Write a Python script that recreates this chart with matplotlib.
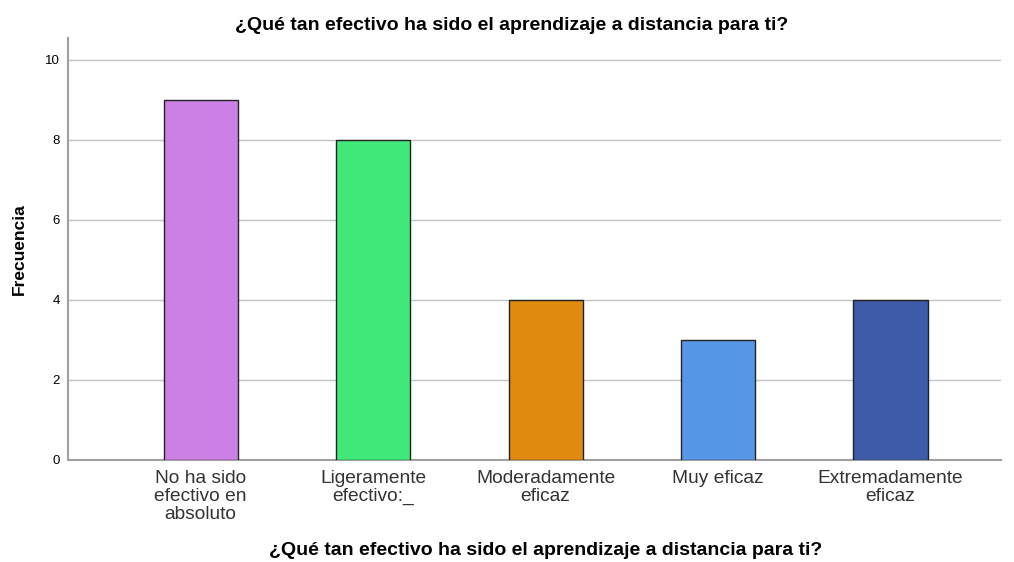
import matplotlib.pyplot as plt

categories = ["No ha sido\nefectivo en\nabsoluto", "Ligeramente\nefectivo:_",
              "Moderadamente\neficaz", "Muy eficaz", "Extremadamente\neficaz"]
frecuencia = [9, 8, 4, 3, 4]
colores = ["#CC80E6", "#40E87A", "#E08A10", "#5597E6", "#3E5BA9"]
yticks = [0, 2, 4, 6, 8, 10]

plt.rcParams['font.family'] = ['Liberation Sans', 'DejaVu Sans']

fig = plt.figure(figsize=(10.14, 5.62), dpi=100)
ax = fig.add_axes([0.067, 0.1815, 0.92, 0.751])

x = range(len(categories))
ax.bar(x, frecuencia, width=0.43, color=colores, edgecolor="#222222", linewidth=1, zorder=3)

ax.set_xlim(-0.77, 4.64)
ax.set_ylim(0, 10.55)
ax.set_yticks(yticks)
ax.set_yticklabels([str(v) for v in yticks], fontsize=9.5)
ax.set_xticks(list(x))
ax.set_xticklabels(categories, fontsize=13.8, linespacing=1.08, color="#333333")
ax.tick_params(length=0, pad=6)
ax.tick_params(axis='x', pad=7)

ax.grid(axis='y', color="#c4c4c4", linewidth=1, zorder=0)
for s in ['top', 'right']:
    ax.spines[s].set_visible(False)
for s in ['left', 'bottom']:
    ax.spines[s].set_color("#a0a0a0")
    ax.spines[s].set_linewidth(1.5)

ax.set_ylabel("Frecuencia", fontsize=12.5, fontweight='bold', labelpad=13)

fig.text(0.505, 0.955, "¿Qué tan efectivo ha sido el aprendizaje a distancia para ti?",
         ha='center', va='center', fontsize=14, fontweight='bold')
fig.text(0.538, 0.02, "¿Qué tan efectivo ha sido el aprendizaje a distancia para ti?",
         ha='center', va='center', fontsize=14, fontweight='bold')

fig.savefig("out.png", dpi=100)
